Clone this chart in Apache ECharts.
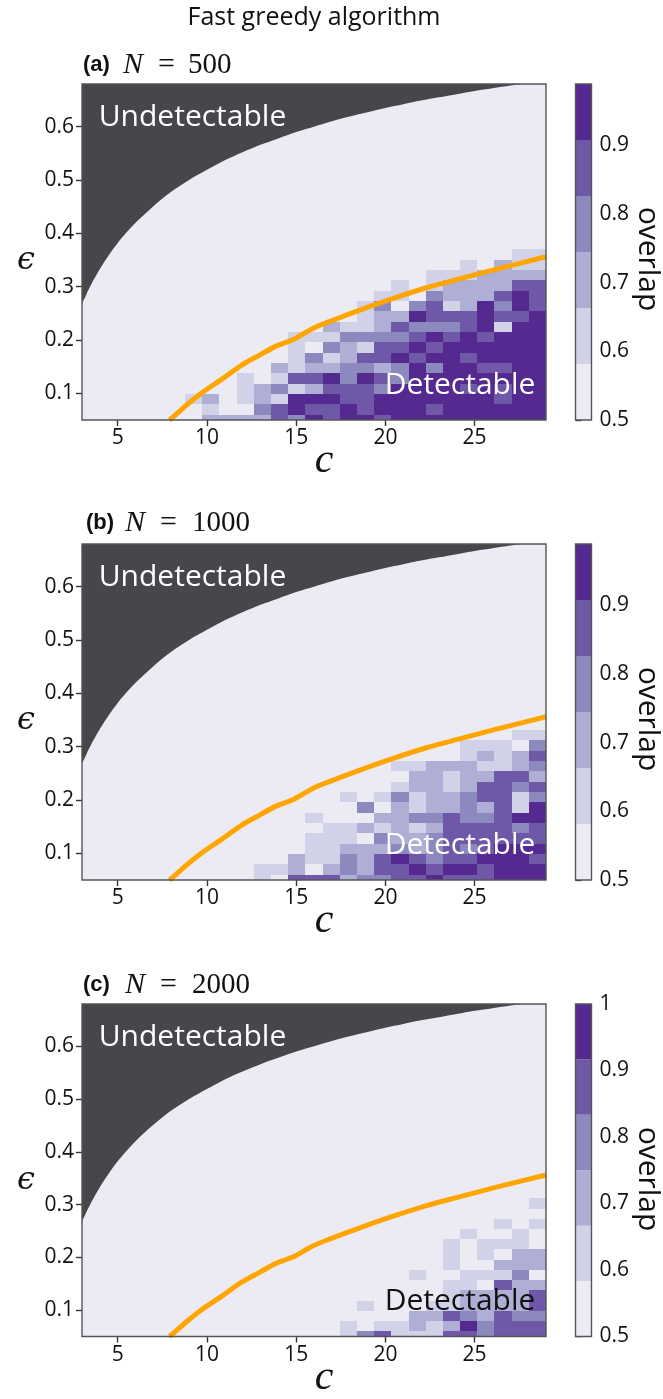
<!DOCTYPE html>
<html><head><meta charset="utf-8">
<style>html,body{margin:0;padding:0;background:#fff}#chart{width:663px;height:1399px}</style>
<script src="https://cdn.jsdelivr.net/npm/echarts@6/dist/echarts.min.js"></script>
</head><body><div id="chart"></div>
<script>
const cTicks=[5,10,15,20,25];
const epsTicks=[0.1,0.2,0.3,0.4,0.5,0.6];
const cbTicksAB=[0.5,0.6,0.7,0.8,0.9];
const cbTicksC=[0.5,0.6,0.7,0.8,0.9,1];
const levelColors=['#ECEBF4','#D1D2E7','#AFAED4','#8C89BF','#6E58A7','#552A90'];
const cbMaxAB=0.989, cbMaxC=1;
// overlap bin of each cell, bottom row first, column c=3 first
const levelsA=[
'000000022224354554555555555','000000010034544545554555555','000000120121555445555555455',
'000000000123124443555545455','000000000101445354355555555','000000000002122332353554455',
'000000000000131244545545555','000000000000103214454555555','000000000000111333345454555',
'000000000000002112433345155','000000000000000012254445445','000000000000000013034125354',
'000000000000000001103222454','000000000000000000101222244','000000000000000000001112222',
'000000000000000000000010211','000000000000000000000000011'];
const levelsB=[
'000000000010444233445444555','000000000011202324454554555','000000000000211324543445554',
'000000000000011222323434555','000000000000011103223444444','000000000000001121212444434',
'000000000000010002233433455','000000000000000030212232415','000000000000000101312234413',
'000000000000000000122124434','000000000000000000022122442','000000000000000000112221123',
'000000000000000000000012124','000000000000000000000011103','000000000000000000000000011'];
const levelsC=[
'000000000000134111443444','000000000000101121253444','000000000000000022432433',
'000000000000010001122224','000000000000000000122224','000000000000000000110422',
'000000000000000010011130','000000000000000000100222','000000000000000000101022',
'000000000000000000101110','000000000000000000010010','000000000000000000000101',
'000000000000000000000000','000000000000000000000001'].map(s=>'000'+s);
const thresholdC=[3,3.25,3.5,4,4.5,5,5.5,6,7,8,9,10,11,12,13,14,15,16,17,18,19,20,21,22,23,24,25,26,27,28,29];
const thresholdEps=[.268,.286,.303,.333,.359,.382,.402,.420,.451,.478,.5,.519,.537,.552,.566,.578,.590,.6,.610,.619,.627,.635,.642,.649,.655,.661,.667,.672,.677,.682,.687];
const greedyC=[7.9,8.02,8.86,9.8,10.9,11.95,12.97,13.9,14.84,15.96,16.9,18.57,20.44,22.3,24.2,26,29];
const greedyEps=[.05,.053,.078,.103,.128,.153,.172,.189,.201,.222,.235,.256,.278,.298,.315,.331,.356];
const panelNames=['(a)','(b)','(c)'];
const panelSizes=['500','1000','2000'];

const C_MIN=3,C_MAX=29,E_MIN=.05,E_MAX=.68,COL_W=26/27,ROW_H=.0194;
const plots=[{top:84,bottom:420},{top:544,bottom:880},{top:1004,bottom:1336.5}];
const L=82,R=546,CBL=575.5,CBR=591.5;
const FONT='"Open Sans"',SERIF='"Liberation Serif"',SPINE='#555';
const levels=[levelsA,levelsB,levelsC];
const detectColor=['#fff','#fff','#111'];
const headerX=[[83,123,158,188],[86,125,160,192],[83,125,160,192]];
const headerY=[65,523,985];

const grid=[],xAxis=[],yAxis=[],series=[],graphic=[];
const text=(x,y,t,size,color,extra)=>graphic.push({type:'text',x,y,z:50,style:Object.assign({text:t,fontFamily:FONT,fontSize:size,fill:color,textAlign:'center',textVerticalAlign:'middle'},extra||{})});
text(314,18,'Fast greedy algorithm',25,'#111');

plots.forEach((p,i)=>{
  const h=p.bottom-p.top;
  grid.push({left:L,width:R-L,top:p.top,height:h,backgroundColor:levelColors[0],show:true,borderWidth:0});
  grid.push({left:CBL,width:CBR-CBL,top:p.top,height:h,show:false});
  const tickStyle={show:true,length:6,lineStyle:{color:'#333',width:1.4}};
  const lab={color:'#111',fontFamily:FONT,fontSize:21};
  xAxis.push({gridIndex:2*i,type:'value',min:C_MIN,max:C_MAX,axisLine:{show:false},splitLine:{show:false},
    axisTick:Object.assign({customValues:cTicks},tickStyle),axisLabel:Object.assign({customValues:cTicks,margin:8},lab)});
  yAxis.push({gridIndex:2*i,type:'value',min:E_MIN,max:E_MAX,axisLine:{show:false},splitLine:{show:false},
    axisTick:Object.assign({customValues:epsTicks},tickStyle),axisLabel:Object.assign({customValues:epsTicks,margin:8,formatter:v=>v.toFixed(1)},lab)});
  const cbT=i==2?cbTicksC:cbTicksAB, cbM=i==2?cbMaxC:cbMaxAB;
  xAxis.push({gridIndex:2*i+1,type:'value',min:0,max:1,show:false});
  yAxis.push({gridIndex:2*i+1,type:'value',position:'right',min:.5,max:cbM,axisLine:{show:false},splitLine:{show:false},
    axisTick:Object.assign({customValues:cbT},tickStyle),axisLabel:Object.assign({customValues:cbT,margin:8,formatter:v=>v==1?'1':v.toFixed(1)},lab)});

  const cells=[];
  levels[i].forEach((row,r)=>{[...row].forEach((ch,j)=>cells.push([j,r,+ch]));});
  series.push({type:'custom',xAxisIndex:2*i,yAxisIndex:2*i,clip:true,z:2,data:cells,silent:true,encode:{x:0,y:1},
    renderItem:(params,api)=>{
      const j=api.value(0),r=api.value(1),col=levelColors[api.value(2)];
      const lo=Math.max(E_MIN,E_MIN+(r-.5)*ROW_H),hi=E_MIN+(r+.5)*ROW_H;
      const a=api.coord([C_MIN+j*COL_W,hi]),b=api.coord([C_MIN+(j+1)*COL_W,lo]);
      const x0=Math.round(a[0]),x1=Math.round(b[0]),y0=Math.round(a[1]),y1=Math.round(b[1]);
      return {type:'rect',shape:{x:x0,y:y0,width:x1-x0,height:y1-y0},style:{fill:col}};
    }});
  series.push({type:'line',xAxisIndex:2*i,yAxisIndex:2*i,z:3,showSymbol:false,smooth:.3,clip:true,silent:true,
    data:thresholdC.map((c,k)=>[c,thresholdEps[k]]),lineStyle:{width:0},itemStyle:{opacity:0},
    areaStyle:{origin:'end',color:'#47464A',opacity:1}});
  series.push({type:'line',xAxisIndex:2*i,yAxisIndex:2*i,z:4,showSymbol:false,smooth:.3,clip:true,silent:true,
    data:greedyC.map((c,k)=>[c,greedyEps[k]]),lineStyle:{color:'#FFA500',width:5}});
  const bands=levelColors.map((c,k)=>[.5+k*(cbM-.5)/6,.5+(k+1)*(cbM-.5)/6,k]);
  series.push({type:'custom',xAxisIndex:2*i+1,yAxisIndex:2*i+1,z:2,data:bands,silent:true,encode:{y:[0,1]},
    renderItem:(params,api)=>{
      const a=api.coord([0,api.value(1)]),b=api.coord([1,api.value(0)]);
      return {type:'rect',shape:{x:a[0],y:a[1],width:b[0]-a[0],height:b[1]-a[1]},style:{fill:levelColors[api.value(2)]}};
    }});

  [[L,R],[CBL,CBR]].forEach(([l,r])=>graphic.push({type:'rect',z:40,shape:{x:l,y:p.top,width:r-l,height:h},style:{fill:'none',stroke:SPINE,lineWidth:1.4}}));

  const hx=headerX[i],hy=headerY[i];
  text(hx[0],hy,panelNames[i],22,'#111',{textAlign:'left',fontFamily:'"Liberation Sans"',fontWeight:'bold'});
  text(hx[1],hy,'N',30,'#111',{textAlign:'left',fontFamily:SERIF,fontStyle:'italic'});
  text(hx[2],hy,'=',30,'#111',{textAlign:'left',fontFamily:SERIF});
  text(hx[3],hy,panelSizes[i],29,'#111',{textAlign:'left',fontFamily:SERIF});
  text(192.5,p.top+33,'Undetectable',30,'#fff');
  text(460,p.bottom-35,'Detectable',30,detectColor[i]);
  text(324,p.bottom+41,'c',42,'#111',{fontFamily:SERIF,fontStyle:'italic'});
  text(26,p.top+177,'\u03f5',32,'#111',{fontFamily:'"DejaVu Serif"',fontStyle:'italic'});
  graphic.push({type:'text',x:648,y:p.top+175,rotation:-Math.PI/2,z:50,style:{text:'overlap',fontFamily:FONT,fontSize:30,fill:'#111',textAlign:'center',textVerticalAlign:'middle'}});
});

const chart=echarts.init(document.getElementById('chart'),null,{renderer:'canvas'});
chart.setOption({animation:false,backgroundColor:'#fff',grid,xAxis,yAxis,series,graphic});
</script></body></html>
